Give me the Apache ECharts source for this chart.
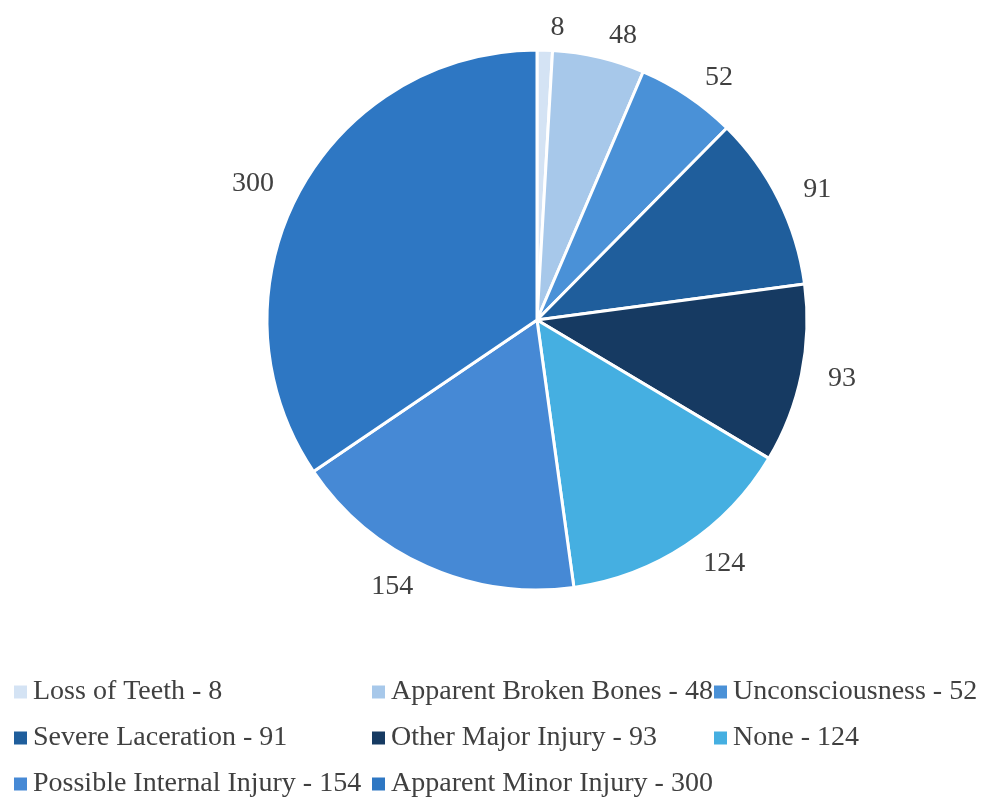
<!DOCTYPE html>
<html>
<head>
<meta charset="utf-8">
<script src="https://cdn.jsdelivr.net/npm/echarts@6/dist/echarts.min.js"></script>
<style>
  html, body { margin: 0; padding: 0; background: #fff; }
  #chart { width: 990px; height: 800px; }
</style>
</head>
<body>
<div id="chart"></div>
<script>
var categories = ['Loss of Teeth', 'Apparent Broken Bones', 'Unconsciousness', 'Severe Laceration',
  'Other Major Injury', 'None', 'Possible Internal Injury', 'Apparent Minor Injury'];
var values = [8, 48, 52, 91, 93, 124, 154, 300];
var colors = ['#d4e3f4', '#a7c8ea', '#4a91d7', '#1f5e9c', '#163a62', '#45afe1', '#4689d5', '#2e77c3'];

// legend is laid out in three columns, filled column by column
var columns = [
  [categories[0], categories[3], categories[6]],
  [categories[1], categories[4], categories[7]],
  [categories[2], categories[5]]
];
var colLeft = [12, 370, 712];

var chart = echarts.init(document.getElementById('chart'));
var font = '"Liberation Serif", "Times New Roman", serif';

var legends = columns.map(function (names, i) {
  return {
    orient: 'vertical',
    left: colLeft[i],
    top: 678,
    height: 140,
    padding: 0,
    itemWidth: 15,
    itemHeight: 15,
    itemGap: 18,
    icon: 'rect',
    data: names,
    formatter: function (name) {
      return name + ' - ' + values[categories.indexOf(name)];
    },
    textStyle: { fontFamily: font, fontSize: 28, lineHeight: 28, color: '#404040' }
  };
});

chart.setOption({
  animation: false,
  color: colors,
  legend: legends,
  series: [{
    type: 'pie',
    center: [537, 320],
    radius: [0, 270],
    startAngle: 90,
    clockwise: true,
    avoidLabelOverlap: false,
    itemStyle: { borderColor: '#fff', borderWidth: 3 },
    label: {
      show: true,
      position: 'outside',
      formatter: '{c}',
      fontFamily: font,
      fontSize: 28,
      color: '#404040'
    },
    labelLine: { show: false, length: 22, length2: 0 },
    data: categories.map(function (c, i) { return { name: c, value: values[i] }; })
  }]
});
</script>
</body>
</html>
